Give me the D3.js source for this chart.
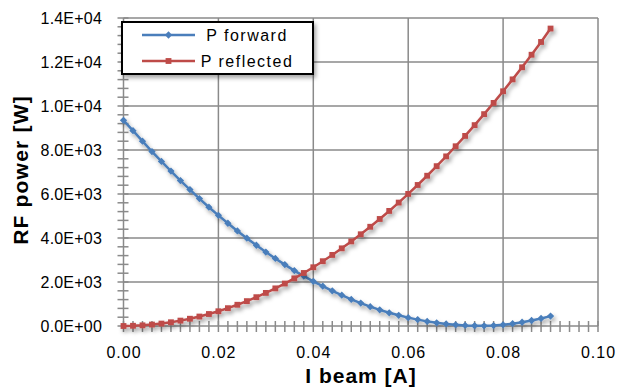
<!DOCTYPE html>
<html>
<head>
<meta charset="utf-8">
<script src="https://cdn.jsdelivr.net/npm/d3@7"></script>
<style>
  body { margin: 0; background: #fff; }
  text { font-family: "Liberation Sans", Arial, sans-serif; fill: #000; }
</style>
</head>
<body>
<div id="chart"></div>
<script>
// Beam current [A], one point every 0.002 A
var current = [0.000, 0.002, 0.004, 0.006, 0.008, 0.010, 0.012, 0.014, 0.016, 0.018,
               0.020, 0.022, 0.024, 0.026, 0.028, 0.030, 0.032, 0.034, 0.036, 0.038,
               0.040, 0.042, 0.044, 0.046, 0.048, 0.050, 0.052, 0.054, 0.056, 0.058,
               0.060, 0.062, 0.064, 0.066, 0.068, 0.070, 0.072, 0.074, 0.076, 0.078,
               0.080, 0.082, 0.084, 0.086, 0.088, 0.090];

// P forward [W]
var pForward = [9350, 8880, 8400, 7930, 7480, 7040, 6610, 6200, 5790, 5400,
                5030, 4670, 4320, 3990, 3670, 3360, 3070, 2790, 2520, 2270,
                2030, 1810, 1600, 1400, 1210, 1040, 880, 735, 600, 485,
                380, 290, 210, 145, 95, 55, 28, 12, 8, 18,
                55, 105, 170, 250, 345, 450];

// P reflected [W]
var pReflected = [0, 10, 30, 65, 110, 170, 245, 330, 430, 545,
                  670, 810, 965, 1130, 1310, 1505, 1710, 1930, 2165, 2410,
                  2670, 2945, 3230, 3530, 3845, 4170, 4510, 4865, 5230, 5610,
                  6005, 6410, 6830, 7265, 7710, 8170, 8640, 9130, 9630, 10140,
                  10670, 11210, 11760, 12330, 12910, 13520];

var seriesNames = ["P forward", "P reflected"];
var xTicks = [0, 0.02, 0.04, 0.06, 0.08, 0.10];
var yTicks = [0, 2000, 4000, 6000, 8000, 10000, 12000, 14000];
var xTitle = "I beam [A]";
var yTitle = "RF power [W]";

// Size
var w = 619;
var h = 389;
var colors = ["#4a7ebb", "#be4b48"];
var gridColor = "#8a8a8a";

var xScale = d3.scaleLinear().domain([0, 0.1]).range([123.5, 598]);
var yScale = d3.scaleLinear().domain([0, 14000]).range([326, 18]);

var svg = d3.select("#chart").append("svg")
  .attr("width", w)
  .attr("height", h);

// drop shadow like the spreadsheet lines
var defs = svg.append("defs");
defs.append("filter")
  .attr("id", "shadow")
  .attr("x", "-20%").attr("y", "-20%")
  .attr("width", "140%").attr("height", "140%")
  .append("feDropShadow")
  .attr("dx", 2).attr("dy", 3)
  .attr("stdDeviation", 2)
  .attr("flood-color", "#000")
  .attr("flood-opacity", 0.35);

// Gridlines
svg.append("g").selectAll("line")
  .data(yTicks.slice(1))
  .enter().append("line")
  .attr("x1", xScale(0)).attr("x2", xScale(0.1))
  .attr("y1", function(d) { return yScale(d); })
  .attr("y2", function(d) { return yScale(d); })
  .style("stroke", gridColor).style("stroke-width", 1.5);

svg.append("g").selectAll("line")
  .data(xTicks.slice(1))
  .enter().append("line")
  .attr("y1", yScale(0)).attr("y2", yScale(14000))
  .attr("x1", function(d) { return xScale(d); })
  .attr("x2", function(d) { return xScale(d); })
  .style("stroke", gridColor).style("stroke-width", 1.5);

// Minor ticks (cross the axis)
var xMinor = d3.range(0, 51).map(function(i) { return i * 0.002; });
var yMinor = d3.range(0, 36).map(function(i) { return i * 400; });

svg.append("g").selectAll("line")
  .data(xMinor)
  .enter().append("line")
  .attr("x1", function(d) { return xScale(d); })
  .attr("x2", function(d) { return xScale(d); })
  .attr("y1", yScale(0) - 5).attr("y2", yScale(0) + 6)
  .style("stroke", gridColor).style("stroke-width", 1.5);

svg.append("g").selectAll("line")
  .data(yMinor)
  .enter().append("line")
  .attr("y1", function(d) { return yScale(d); })
  .attr("y2", function(d) { return yScale(d); })
  .attr("x1", xScale(0) - 6).attr("x2", xScale(0) + 5)
  .style("stroke", gridColor).style("stroke-width", 1.5);

// Axis lines
svg.append("line")
  .attr("x1", xScale(0)).attr("x2", xScale(0.1))
  .attr("y1", yScale(0)).attr("y2", yScale(0))
  .style("stroke", gridColor).style("stroke-width", 1.5);
svg.append("line")
  .attr("x1", xScale(0)).attr("x2", xScale(0))
  .attr("y1", yScale(0)).attr("y2", yScale(14000))
  .style("stroke", gridColor).style("stroke-width", 1.5);

// Tick labels
function sci(d) {
  var s = d.toExponential(1).toUpperCase();
  var parts = s.split("E");
  var sign = parts[1].charAt(0);
  var exp = parts[1].slice(1);
  if (exp.length < 2) exp = "0" + exp;
  return parts[0] + "E" + sign + exp;
}

svg.append("g").selectAll("text")
  .data(yTicks)
  .enter().append("text")
  .attr("x", 102)
  .attr("y", function(d) { return yScale(d); })
  .attr("dy", "0.36em")
  .style("text-anchor", "end")
  .style("font-size", "16px")
  .style("letter-spacing", "0.2px")
  .text(sci);

svg.append("g").selectAll("text")
  .data(xTicks)
  .enter().append("text")
  .attr("x", function(d) { return xScale(d) + 0.5; })
  .attr("y", 358)
  .style("text-anchor", "middle")
  .style("font-size", "16px")
  .style("letter-spacing", "1px")
  .text(d3.format(".2f"));

// Axis titles
svg.append("text")
  .attr("x", 361)
  .attr("y", 383)
  .style("text-anchor", "middle")
  .style("font-size", "21px")
  .style("font-weight", "bold")
  .style("letter-spacing", "1px")
  .text(xTitle);

svg.append("text")
  .attr("transform", "translate(28,170) rotate(-90)")
  .style("text-anchor", "middle")
  .style("font-size", "21px")
  .style("font-weight", "bold")
  .style("letter-spacing", "1.2px")
  .text(yTitle);

// Lines
var line = d3.line()
  .x(function(d) { return xScale(d.x); })
  .y(function(d) { return yScale(d.y); });

var series = [pForward, pReflected].map(function(vals, i) {
  return {
    name: seriesNames[i],
    values: current.map(function(c, j) { return {x: c, y: vals[j]}; })
  };
});

var diamond = d3.symbol().type(d3.symbolDiamond2).size(34);
var square = d3.symbol().type(d3.symbolSquare).size(34);

var groups = svg.selectAll(".series")
  .data(series)
  .enter().append("g")
  .attr("class", "series")
  .attr("filter", "url(#shadow)");

groups.append("path")
  .attr("d", function(d) { return line(d.values); })
  .style("fill", "none")
  .style("stroke", function(d, i) { return colors[i]; })
  .style("stroke-width", 2.5);

groups.each(function(d, i) {
  d3.select(this).selectAll(".pt")
    .data(d.values)
    .enter().append("path")
    .attr("class", "pt")
    .attr("transform", function(p) { return "translate(" + xScale(p.x) + "," + yScale(p.y) + ")"; })
    .attr("d", i == 0 ? diamond : square)
    .style("fill", colors[i]);
});

// Legend
var legend = svg.append("g");
legend.append("rect")
  .attr("x", 122).attr("y", 22)
  .attr("width", 191).attr("height", 52)
  .attr("filter", "url(#shadow)")
  .style("fill", "#fff")
  .style("stroke", "#000")
  .style("stroke-width", 2);

seriesNames.forEach(function(name, i) {
  var ly = 35 + i * 26;
  legend.append("line")
    .attr("x1", 142).attr("x2", 195)
    .attr("y1", ly).attr("y2", ly)
    .style("stroke", colors[i]).style("stroke-width", 2.5);
  legend.append("path")
    .attr("transform", "translate(168.5," + ly + ")")
    .attr("d", i == 0 ? diamond : square)
    .style("fill", colors[i]);
  legend.append("text")
    .attr("x", 247)
    .attr("y", ly)
    .attr("dy", "0.35em")
    .style("text-anchor", "middle")
    .style("font-size", "16px")
    .style("letter-spacing", "1.5px")
    .text(name);
});
</script>
</body>
</html>
